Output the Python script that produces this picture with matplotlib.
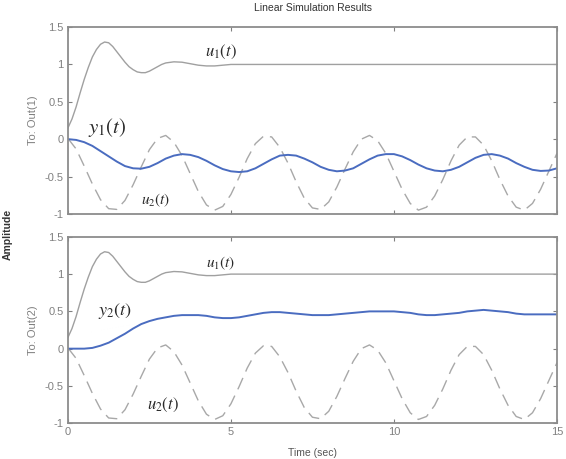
import matplotlib
matplotlib.use("Agg")
import matplotlib.pyplot as plt

plt.rcParams['mathtext.fontset'] = 'stix'
plt.rcParams['font.family'] = ['Liberation Sans', 'DejaVu Sans']

t = [i * 0.25 for i in range(61)]

t_u1 = [i * 0.125 for i in range(25)] + [3.25, 3.5, 3.75, 4.0, 4.25, 4.5, 4.75, 5.0, 15.0]
u1 = [0.15, 0.27, 0.43, 0.62, 0.80, 0.96, 1.10, 1.20, 1.27, 1.30,
      1.29, 1.24, 1.17, 1.10, 1.03, 0.97, 0.93, 0.90, 0.89, 0.89,
      0.91, 0.94, 0.97, 1.00, 1.02,
      1.035, 1.03, 1.01, 0.99, 0.98, 0.98, 0.99, 1.0, 1.0]

u2 = [0.01, -0.13, -0.36, -0.60, -0.81, -0.93, -0.94, -0.82, -0.61, -0.37,
      -0.14, 0.01, 0.05, -0.04, -0.22, -0.46, -0.70, -0.88, -0.95, -0.90,
      -0.74, -0.51, -0.26, -0.06, 0.04, 0.03, -0.11, -0.32, -0.57, -0.79,
      -0.92, -0.94, -0.84, -0.64, -0.40, -0.17, 0.00, 0.05, -0.02, -0.19,
      -0.43, -0.67, -0.86, -0.95, -0.91, -0.76, -0.54, -0.29, -0.08, 0.03,
      0.03, -0.08, -0.29, -0.54, -0.76, -0.91, -0.95, -0.86, -0.67, -0.43,
      -0.19]

y1 = [0.0, -0.01, -0.04, -0.09, -0.16, -0.23, -0.30, -0.36, -0.39, -0.395,
      -0.37, -0.32, -0.26, -0.22, -0.20, -0.21, -0.24, -0.29, -0.35, -0.40,
      -0.43, -0.44, -0.43, -0.39, -0.33, -0.27, -0.22, -0.21, -0.22, -0.26,
      -0.31, -0.37, -0.41, -0.43, -0.42, -0.39, -0.33, -0.27, -0.22, -0.20,
      -0.20, -0.23, -0.28, -0.34, -0.39, -0.42, -0.43, -0.41, -0.37, -0.31,
      -0.25, -0.21, -0.20, -0.22, -0.26, -0.32, -0.37, -0.41, -0.425, -0.42,
      -0.39]

y2 = [0.0, 0.0, 0.0, 0.01, 0.04, 0.08, 0.14, 0.20, 0.27, 0.33,
      0.37, 0.40, 0.42, 0.44, 0.45, 0.45, 0.45, 0.44, 0.42, 0.41,
      0.41, 0.42, 0.44, 0.46, 0.48, 0.49, 0.49, 0.48, 0.47, 0.46,
      0.45, 0.45, 0.45, 0.46, 0.47, 0.48, 0.49, 0.50, 0.50, 0.50,
      0.50, 0.49, 0.48, 0.46, 0.45, 0.45, 0.46, 0.47, 0.48, 0.50,
      0.51, 0.52, 0.51, 0.50, 0.49, 0.47, 0.46, 0.46, 0.46, 0.46,
      0.46]

xticks = [0, 5, 10, 15]
xtick_labels = ['0', '5', '10', '15']
yticks = [-1, -0.5, 0, 0.5, 1, 1.5]
ytick_labels = ['-1', '-0.5', '0', '0.5', '1', '1.5']

fig = plt.figure(figsize=(5.66, 4.59), dpi=100)
ax1 = fig.add_axes([0.120, 0.534, 0.864, 0.407])
ax2 = fig.add_axes([0.120, 0.078, 0.864, 0.406])

gray_tick = '#808080'
blue = '#4a6cc0'
lab_col = '#2a2a2a'

for ax, y, outlab in [(ax1, y1, 'To: Out(1)'), (ax2, y2, 'To: Out(2)')]:
    ax.plot(t_u1, u1, color='#a0a0a0', lw=1.0)
    ax.plot(t, u2, color='#a8a8a8', lw=1.0, dashes=(9, 5))
    ax.plot(t, y, color=blue, lw=1.4)
    ax.set_xlim(0, 15)
    ax.set_ylim(-1, 1.5)
    ax.set_xticks(xticks)
    ax.set_yticks(yticks)
    ax.set_yticklabels(ytick_labels)
    ax.tick_params(direction='in', length=3, width=0.8, colors=gray_tick,
                   labelsize=8, top=True, right=True, pad=3)
    for s in ax.spines.values():
        s.set_color('#8c8c8c')
        s.set_linewidth(1.3)
    ax.set_ylabel(outlab, color=gray_tick, fontsize=8, labelpad=5)

ax1.set_xticklabels([])
ax2.set_xticklabels(xtick_labels)

ax1.text(4.7, 1.17, r'$u_1(t)$', fontsize=12, color=lab_col, ha='center', va='center')
ax1.text(1.2, 0.16, r'$y_1(t)$', fontsize=15, color=lab_col, ha='center', va='center')
ax1.text(2.7, -0.82, r'$u_2(t)$', fontsize=11, color=lab_col, ha='center', va='center')

ax2.text(4.7, 1.14, r'$u_1(t)$', fontsize=11, color=lab_col, ha='center', va='center')
ax2.text(1.45, 0.51, r'$y_2(t)$', fontsize=13, color=lab_col, ha='center', va='center')
ax2.text(2.9, -0.76, r'$u_2(t)$', fontsize=12, color=lab_col, ha='center', va='center')

fig.text(0.553, 0.983, 'Linear Simulation Results', fontsize=7.5, color='#333333',
         ha='center', va='center')
fig.text(0.553, 0.013, 'Time (sec)', fontsize=7.5, color='#555555',
         ha='center', va='center')
fig.text(0.013, 0.49, 'Amplitude', fontsize=7.5, color='#333333', rotation=90,
         ha='center', va='center', fontweight='bold')

fig.savefig('out.png', dpi=100)
